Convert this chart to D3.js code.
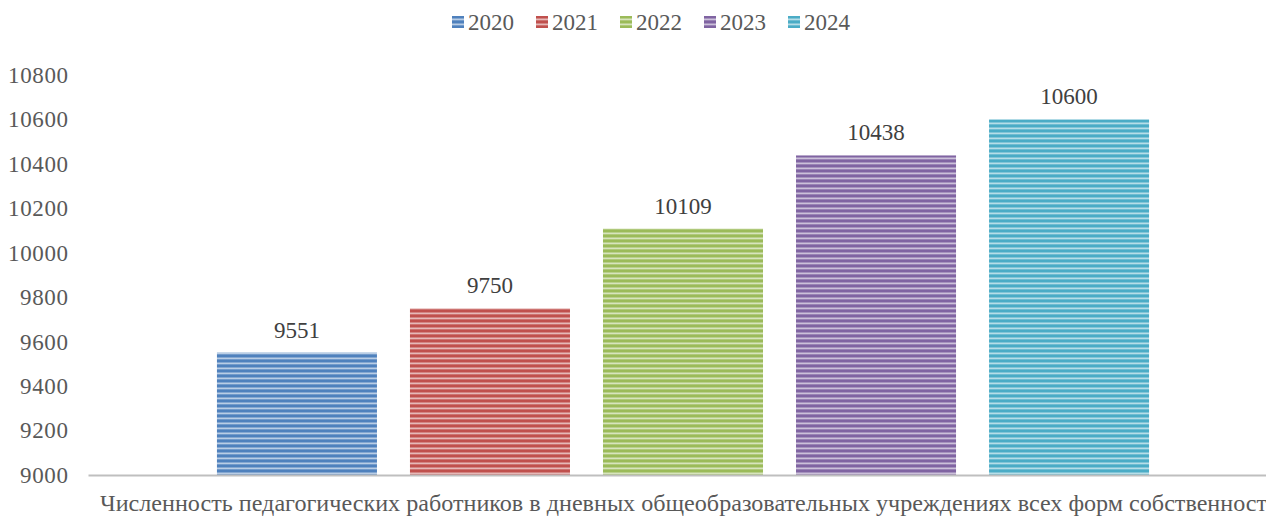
<!DOCTYPE html>
<html>
<head>
<meta charset="utf-8">
<script src="https://cdn.jsdelivr.net/npm/d3@7"></script>
<style>
  body { margin: 0; background: #fff; overflow: hidden; }
  svg text { font-family: "Liberation Serif", "Times New Roman", serif !important; }
</style>
</head>
<body>
<svg id="chart"></svg>
<script>
// данные
var years = ['2020', '2021', '2022', '2023', '2024'];
var values = [9551, 9750, 10109, 10438, 10600];
var yTicks = [9000, 9200, 9400, 9600, 9800, 10000, 10200, 10400, 10600, 10800];
var category = ['Численность педагогических работников в дневных общеобразовательных учреждениях всех форм собственности'];

var svgWidth = 1266;
var svgHeight = 516;
var colorArr = ['#4f81bd', '#c0504d', '#9bbb59', '#8064a2', '#4bacc6'];

var svg = d3.select('#chart')
  .attr('width', svgWidth)
  .attr('height', svgHeight);

// полосатая заливка как в Excel
var defs = svg.append('defs');
colorArr.forEach(function(c, i) {
  var light = d3.interpolateRgb(c, '#ffffff')(0.6);
  var grad = defs.append('linearGradient')
    .attr('id', 'g' + i)
    .attr('x1', 0).attr('y1', 0).attr('x2', 0).attr('y2', 1);
  grad.append('stop').attr('offset', '0%').attr('stop-color', c);
  grad.append('stop').attr('offset', '30%').attr('stop-color', c);
  grad.append('stop').attr('offset', '70%').attr('stop-color', light);
  grad.append('stop').attr('offset', '100%').attr('stop-color', c);
  var pat = defs.append('pattern')
    .attr('id', 'p' + i)
    .attr('patternUnits', 'userSpaceOnUse')
    .attr('width', 10).attr('height', 5);
  pat.append('rect').attr('width', 10).attr('height', 5).attr('fill', 'url(#g' + i + ')');
});

var x0 = d3.scaleBand().domain(category).range([88, 1278]);
var x = d3.scaleBand().domain(years)
  .range(x0.range())
  .paddingInner(0.171)
  .paddingOuter(0.668);
var y = d3.scaleLinear().domain([9000, 10800]).range([475, 75]);

// ось Y
var yAxis = svg.append('g')
  .attr('transform', 'translate(68,0)')
  .call(d3.axisLeft(y).tickValues(yTicks).tickSize(0).tickPadding(0).tickFormat(d3.format('d')));
yAxis.select('.domain').remove();
yAxis.selectAll('text')
  .style('font-size', '23px')
  .attr('textLength', function(d) { return String(d).length * 12; })
  .attr('fill', '#595959');

// столбцы
svg.selectAll('rect.bar')
  .data(values)
  .enter()
  .append('rect')
  .attr('class', 'bar')
  .attr('x', function(d, i) { return x(years[i]); })
  .attr('y', function(d) { return y(d); })
  .attr('width', x.bandwidth())
  .attr('height', function(d) { return y(9000) - y(d); })
  .attr('fill', function(d, i) { return 'url(#p' + i + ')'; });

// подписи значений
svg.selectAll('text.val')
  .data(values)
  .enter()
  .append('text')
  .attr('class', 'val')
  .attr('x', function(d, i) { return x(years[i]) + x.bandwidth() / 2; })
  .attr('y', function(d) { return y(d) - 15; })
  .attr('text-anchor', 'middle')
  .style('font-size', '23px')
  .attr('fill', '#404040')
  .text(function(d) { return d; });

// ось X
var xAxis = svg.append('g')
  .attr('transform', 'translate(0,' + y(9000) + ')')
  .call(d3.axisBottom(x0).tickSize(0).tickPadding(0));
xAxis.select('.domain').attr('stroke', '#bfbfbf').attr('stroke-width', 2);
xAxis.selectAll('text')
  .attr('dy', 36)
  .attr('x', 7)
  .attr('textLength', 1180)
  .attr('lengthAdjust', 'spacingAndGlyphs')
  .style('font-size', '23px')
  .attr('fill', '#595959');

// легенда
var legend = svg.append('g').selectAll('g')
  .data(years)
  .enter()
  .append('g')
  .attr('transform', function(d, i) { return 'translate(' + (452 + i * 84) + ',16)'; });
legend.append('rect')
  .attr('width', 12).attr('height', 12)
  .attr('fill', function(d, i) { return 'url(#p' + i + ')'; });
legend.append('text')
  .attr('x', 16).attr('y', 14)
  .style('font-size', '23px')
  .attr('fill', '#595959')
  .text(function(d) { return d; });
</script>
</body>
</html>
